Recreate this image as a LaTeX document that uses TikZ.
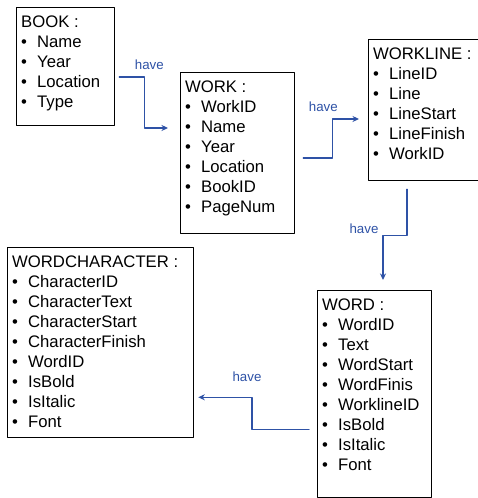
\documentclass[tikz,border=0pt]{standalone}
\usepackage{fontspec}
\setmainfont{Liberation Sans}
\usetikzlibrary{arrows.meta}
\definecolor{linkblue}{rgb}{0.18,0.32,0.65}
\newcommand{\ent}[3]{\parbox[t][#2][t]{#1}{\fontsize{16.7}{20}\selectfont\strut #3}}
\newcommand{\itm}{\\\makebox[16pt][l]{\textbullet}}
\tikzset{
  entity/.style={draw=black,line width=1.3pt,inner xsep=4.5pt,inner ysep=6pt,anchor=north west},
  link/.style={draw=linkblue,line width=1.4pt,-{Stealth[length=6.5pt,width=6pt]}},
  lbl/.style={text=linkblue,font=\fontsize{13.3}{14}\selectfont,inner sep=0pt}
}
\begin{document}
\begin{tikzpicture}[line cap=round,line join=round,x=1pt,y=1pt]
\useasboundingbox (0,0) rectangle (477,498);
% entities
\node[entity] (book) at (16,491) {\ent{89pt}{106pt}{BOOK :\itm Name\itm Year\itm Location\itm Type}};
\node[entity] (work) at (180,426) {\ent{105pt}{149pt}{WORK :\itm WorkID\itm Name\itm Year\itm Location\itm BookID\itm PageNum}};
\node[entity] (workline) at (368,459) {\ent{104pt}{129pt}{WORKLINE :\itm LineID\itm Line\itm LineStart\itm LineFinish\itm WorkID}};
\node[entity] (word) at (317,208) {\ent{105pt}{195pt}{WORD :\itm WordID\itm Text\itm WordStart\itm WordFinis\itm WorklineID\itm IsBold\itm IsItalic\itm Font}};
\node[entity] (wordchar) at (7,251) {\ent{177pt}{178pt}{WORDCHARACTER :\itm CharacterID\itm CharacterText\itm CharacterStart\itm CharacterFinish\itm WordID\itm IsBold\itm IsItalic\itm Font}};
% links
\draw[link] ([shift={(4,-70)}]book.north east) -- ++(25,0)
  node[lbl,shift={(5,12)}] (have1) {have} |- ([shift={(-12,-56)}]work.north west);
\draw[link] ([shift={(8,-86)}]work.north east) -- ++(29,0) -- ++(0,39)
  node[lbl,shift={(-9,12)}] (have2) {have} -- ([shift={(-9,-80)}]workline.north west);
\draw[link] ([shift={(39,-8)}]workline.south west) -- ++(0,-46) -- ++(-24,0)
  node[lbl,shift={(-19,7)}] (have3) {have} -- ([shift={(66,10)}]word.north west);
\draw[link] ([shift={(-8,69)}]word.south west) -- ++(-57,0) -- ++(0,32)
  node[lbl,shift={(-5,21)}] (have4) {have} -- ([shift={(4,41)}]wordchar.south east);
\end{tikzpicture}
\end{document}
